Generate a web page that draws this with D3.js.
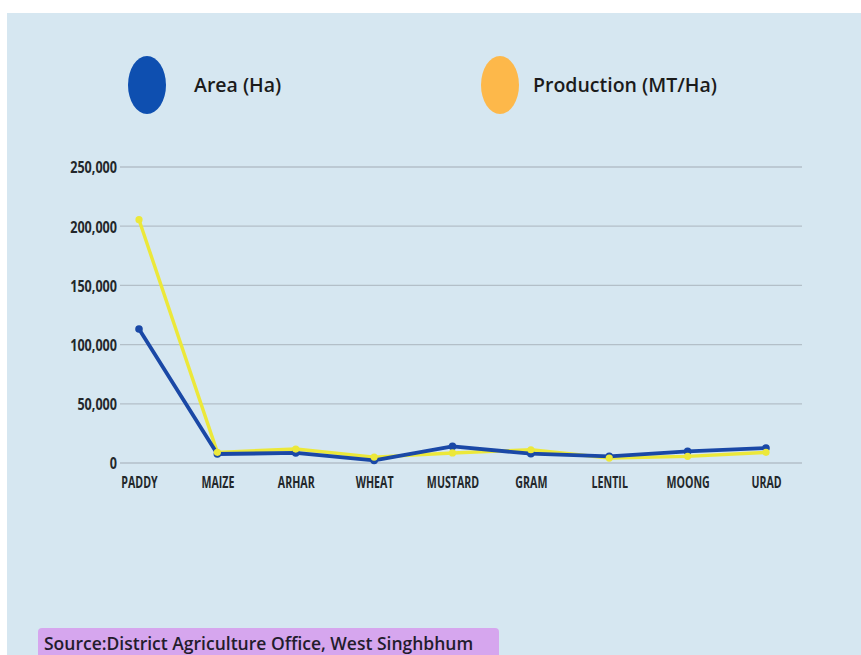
<!DOCTYPE html>
<html>
<head>
<meta charset="utf-8">
<script src="https://cdn.jsdelivr.net/npm/d3@7"></script>
<style>
  html, body { margin: 0; padding: 0; background: #ffffff; }
  svg { display: block; }
</style>
</head>
<body>
<svg id="chart" width="861" height="655"></svg>
<script>
// Crop-wise area and production, West Singhbhum
const crops = ["PADDY", "MAIZE", "ARHAR", "WHEAT", "MUSTARD", "GRAM", "LENTIL", "MOONG", "URAD"];
const areaHa = [113200, 7600, 8500, 2200, 14000, 7900, 5600, 9800, 12700];
const productionMtHa = [205500, 9000, 11800, 5000, 8500, 11200, 4200, 5600, 9000];
const yTicks = [0, 50000, 100000, 150000, 200000, 250000];
const seriesNames = ["Area (Ha)", "Production (MT/Ha)"];
const sourceText = "Source:District Agriculture Office, West Singhbhum";

const svg = d3.select("#chart");

// panel background
svg.append("rect").attr("x", 7).attr("y", 13).attr("width", 861).attr("height", 650)
  .attr("fill", "#d6e7f1");

const x = d3.scalePoint().domain(crops).range([139, 766]);
const y = d3.scaleLinear().domain([0, 250000]).range([463, 167]);

// gridlines
svg.append("g").selectAll("line").data(yTicks).join("line")
  .attr("x1", 120).attr("x2", 802)
  .attr("y1", d => y(d)).attr("y2", d => y(d))
  .attr("stroke", "#b3bfc8").attr("stroke-width", 1.3);

const axisFont = "'Open Sans', sans-serif";

// y axis labels (narrow, tall lettering)
const yAxis = d3.axisLeft(y).tickValues(yTicks).tickFormat(d3.format(",")).tickSize(0).tickPadding(0);
const gy = svg.append("g").attr("transform", "translate(117,0)").call(yAxis);
gy.select(".domain").remove();
gy.selectAll("text")
  .attr("font-family", axisFont)
  .attr("font-weight", "bold").attr("font-size", 14).attr("fill", "#23272b")
  .attr("x", 0).attr("y", 0).attr("dy", "0.36em")
  .attr("transform", "scale(0.9,1.15)");

// x axis labels
const xAxis = d3.axisBottom(x).tickSize(0).tickPadding(0);
const gx = svg.append("g").attr("transform", "translate(0,476)").call(xAxis);
gx.select(".domain").remove();
gx.selectAll("text")
  .attr("font-family", axisFont)
  .attr("font-weight", "bold").attr("font-size", 14).attr("fill", "#23272b")
  .attr("y", 0).attr("dy", "0.72em")
  .attr("transform", "scale(0.76,1.15)");

const line = d3.line().x((d, i) => x(crops[i])).y(d => y(d));

// production line under the area line
svg.append("path").datum(productionMtHa)
  .attr("d", line).attr("fill", "none")
  .attr("stroke", "#ece83a").attr("stroke-width", 3.4).attr("stroke-linejoin", "round");
svg.append("path").datum(areaHa)
  .attr("d", line).attr("fill", "none")
  .attr("stroke", "#1a48a6").attr("stroke-width", 3.8).attr("stroke-linejoin", "round");

svg.append("g").selectAll("circle").data(areaHa).join("circle")
  .attr("cx", (d, i) => x(crops[i])).attr("cy", d => y(d)).attr("r", 3.8)
  .attr("fill", "#1a48a6");
svg.append("g").selectAll("circle").data(productionMtHa).join("circle")
  .attr("cx", (d, i) => x(crops[i])).attr("cy", d => y(d)).attr("r", 3.6)
  .attr("fill", "#ece83a");

// legend
const legendColors = ["#0e4fb0", "#fdb84a"];
const legendX = [147, 500];
const legendTextOffset = [47, 33];
const legend = svg.append("g").selectAll("g").data(seriesNames).join("g")
  .attr("transform", (d, i) => `translate(${legendX[i]},85)`);
legend.append("ellipse").attr("rx", 19).attr("ry", 29)
  .attr("fill", (d, i) => legendColors[i]);
legend.append("text").text(d => d)
  .attr("x", (d, i) => legendTextOffset[i]).attr("y", 0).attr("dy", "0.35em")
  .attr("font-family", "'Open Sans', sans-serif").attr("font-weight", 600)
  .attr("font-size", 19.5).attr("fill", "#1b1b1b");

// source tag
const src = svg.append("g").attr("transform", "translate(38,628)");
src.append("rect").attr("width", 461).attr("height", 34).attr("rx", 4)
  .attr("fill", "#d6a6ee");
src.append("text").text(sourceText)
  .attr("x", 6).attr("y", 16).attr("dy", "0.35em")
  .attr("font-family", "'Open Sans', sans-serif").attr("font-weight", 600)
  .attr("font-size", 17.5).attr("fill", "#231c2c");
</script>
</body>
</html>
